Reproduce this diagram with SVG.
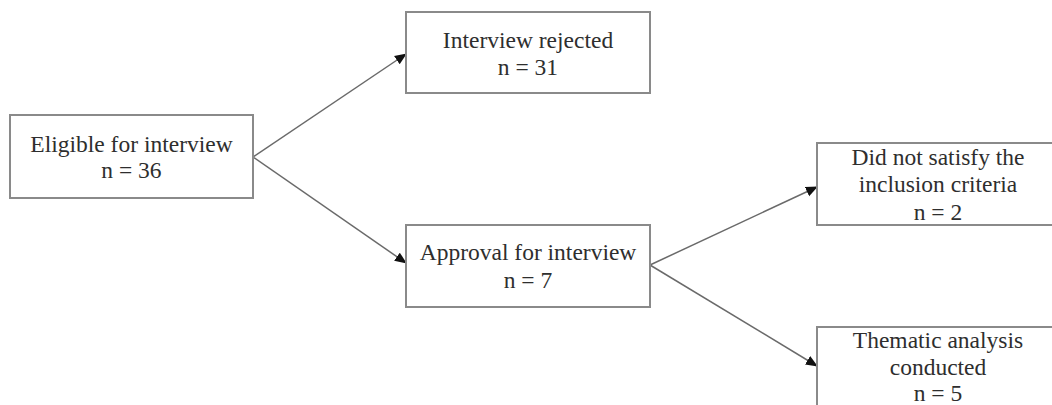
<svg xmlns="http://www.w3.org/2000/svg" width="1052" height="405" viewBox="0 0 1052 405">
<style>
.box{fill:#fff;stroke:#8a8a8a;stroke-width:2}
.t{font-family:"Liberation Serif","Times New Roman",serif;font-size:23.5px;fill:#2e2e2e;text-anchor:middle}
.c{stroke:#6a6a6a;stroke-width:1.5;fill:none;marker-end:url(#ah)}
</style>
<defs>
<marker id="ah" markerWidth="12" markerHeight="12" refX="11" refY="6" orient="auto" markerUnits="userSpaceOnUse" viewBox="0 0 12 12">
<path d="M0,1 L12,6 L0,11 Z" fill="#111"/>
</marker>
</defs>
<rect width="1052" height="405" fill="#fff"/>
<g id="connectors">
<line class="c" x1="253" y1="157" x2="406" y2="54"/>
<line class="c" x1="253" y1="157" x2="406" y2="263"/>
<line class="c" x1="650" y1="265" x2="817" y2="187"/>
<line class="c" x1="650" y1="265" x2="817" y2="366"/>
</g>
<g id="eligible">
<rect class="box" x="10" y="115" width="243" height="83"/>
<text class="t" x="131.5" y="152">Eligible for interview</text>
<text class="t" x="131.5" y="178">n = 36</text>
</g>
<g id="rejected">
<rect class="box" x="406" y="12" width="244" height="81"/>
<text class="t" x="528" y="48">Interview rejected</text>
<text class="t" x="528" y="75">n = 31</text>
</g>
<g id="approval">
<rect class="box" x="406" y="225" width="244" height="82"/>
<text class="t" x="528" y="260">Approval for interview</text>
<text class="t" x="528" y="288">n = 7</text>
</g>
<g id="notsatisfy">
<rect class="box" x="817" y="143" width="243" height="82"/>
<text class="t" x="938" y="165">Did not satisfy the</text>
<text class="t" x="938" y="192">inclusion criteria</text>
<text class="t" x="938" y="220">n = 2</text>
</g>
<g id="thematic">
<rect class="box" x="817" y="327" width="243" height="90"/>
<text class="t" x="938" y="348">Thematic analysis</text>
<text class="t" x="938" y="375">conducted</text>
<text class="t" x="938" y="401">n = 5</text>
</g>
</svg>
